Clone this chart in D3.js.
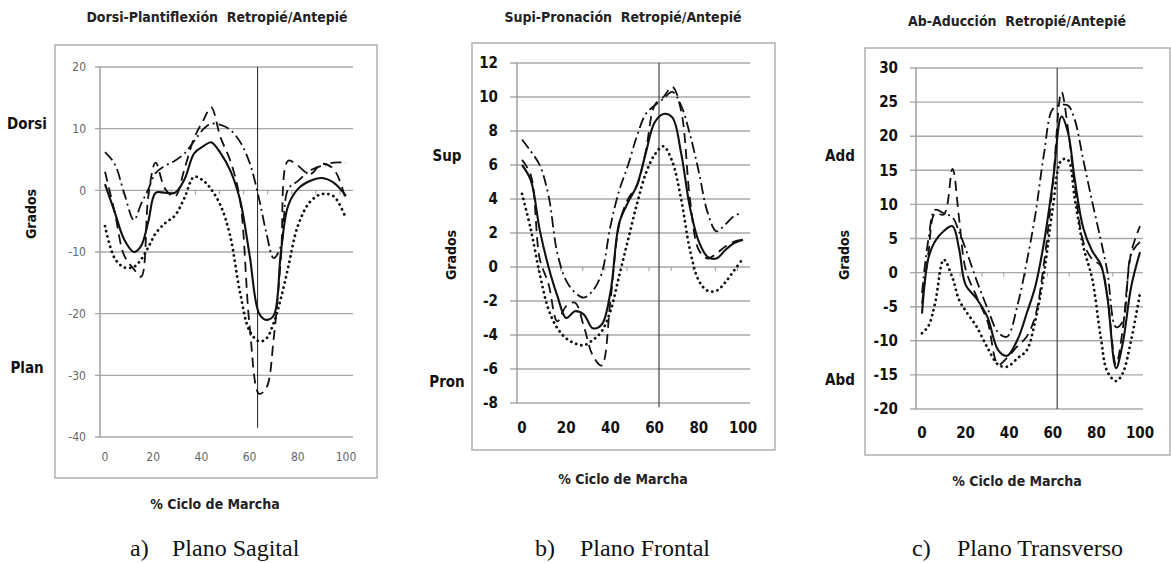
<!DOCTYPE html>
<html>
<head>
<meta charset="utf-8">
<script src="https://cdn.jsdelivr.net/npm/d3@7"></script>
<style>
  body { margin: 0; background: #fff; }
  svg { display: block; }
  .narrow { font-family: "Liberation Sans Narrow", "DejaVu Sans Condensed", "Roboto Condensed", sans-serif; font-weight: bold; white-space: pre; }
  .serif { font-family: "Liberation Serif", "DejaVu Serif", serif; }
</style>
</head>
<body>
<svg id="chart" width="1171" height="563"></svg>
<script>
// ---- data ----
// a) Plano Sagital
var cicloA = [0,4,8,12,15,18,21,25,29,33,37,41,44,48,52,56,60,64,67,70,73,76,80,85,90,95,100];
var mediaA   = [1,-3.5,-8,-10,-9,-5,-0.4,-0.4,-0.4,1.8,6,7.2,7.8,6,3.2,-1.5,-10.5,-20,-21,-20.3,-10,-2.5,0.2,1.5,2,1.2,-0.9];
var punteoA  = [-5.8,-11,-12.5,-12.4,-11.2,-9.2,-7,-5.3,-4.1,-1.2,2.2,1.5,0.2,-2.5,-7.5,-16.5,-22.8,-24.5,-24,-21.5,-17.5,-12.5,-5.8,-1.9,-0.6,-1,-4.6];
var rayaPtoA = [6.2,4.3,-0.5,-4.8,-2.2,0.2,2.8,4,4.8,6,8,10,10.8,10.6,9.8,7.9,4.5,-1.5,-7,-11,-9,0.2,1.5,3.2,4,4.5,4.5];
var rayaA    = [3,-3.5,-10.6,-12.8,-14,-0.9,4.5,0.2,-1,3.5,8.5,11.5,13.5,8.5,4.8,-1.5,-22,-33,-32,-24,-11,4.8,4,2.6,4.3,3.4,-1.7];
var ticksA = [20,10,0,-10,-20,-30,-40];

// b) Plano Frontal
var cicloB = [0,4,8,12,16,20,24,28,32,36,40,44,48,52,56,60,64,68,72,76,80,84,88,92,96,100];
var mediaB   = [6,5.1,2.2,0,-1.7,-3,-2.6,-2.8,-3.6,-3.4,-1.5,2.6,3.8,4.8,6.7,8.5,9,8.8,6.7,3.5,1.5,0.6,0.5,1,1.4,1.6];
var punteoB  = [4.3,2.2,-0.4,-2.5,-3.6,-4.2,-4.5,-4.6,-4.3,-3.8,-2.6,-0.5,1.6,3.7,5.5,6.6,7.1,6.2,4,1,-0.8,-1.4,-1.4,-0.9,-0.2,0.5];
var rayaPtoB = [7.5,6.8,6,4.2,0.8,-0.8,-1.5,-1.8,-1.4,-0.4,2.4,4.5,6,7.7,9,9.5,9.9,10.3,9.5,7.8,5.6,3.2,2.1,2.5,3,3.2];
var rayaB    = [6.3,5.4,0.5,-1,-3.2,-2.3,-2.1,-3.5,-5.2,-5.8,-2,2.5,4,4.8,6.8,9.5,10,10.6,9.2,4,1,0.5,0.8,1.2,1.5,1.6];
var ticksB = [12,10,8,6,4,2,0,-2,-4,-6,-8];

// c) Plano Transverso
var cicloC = [0,3,6,10,14,17,20,25,30,35,39,44,48,52,56,60,64,67,70,74,78,82,85,89,92,96,100];
var mediaC   = [-6,2.2,4.6,6.1,6.8,3.5,-1.8,-3.8,-6.5,-11.4,-12.2,-9.7,-6,-2,4.5,13.2,22.9,20.5,13.8,6.5,3.2,1.2,-3.5,-14,-10.5,-2,3];
var punteoC  = [-8.9,-7.8,-4.5,1.9,-0.8,-4,-5.6,-7.9,-11,-13.5,-13.8,-12.5,-11.4,-7,0,9.5,16.5,16.5,11,3.8,-0.8,-9.5,-14.5,-15.9,-14.8,-9.8,-3];
var rayaPtoC = [-3,5,9.2,8.7,8.1,6,3.5,-1.1,-5.2,-8.8,-9.4,-4.5,1.5,8.5,17.5,24,24.6,24.5,22.5,16.5,10.5,4.8,0.2,-8,-7.2,2.8,4.5];
var rayaC    = [-4.5,3,8.7,8.5,15.2,8,0.5,-3.5,-7.1,-13.5,-12.5,-10.7,-9.4,-6.3,1.5,13,26.5,21,13,4.5,2,1,-3.5,-13.5,-8.5,3,6.8];
var ticksC = [30,25,20,15,10,5,0,-5,-10,-15,-20];

var ticksX = [0,20,40,60,80,100];
var despegue = [63.3, 62, 62];   // vertical line (% ciclo)
var titulos = ["Dorsi-Plantiflexión  Retropié/Antepié", "Supi-Pronación  Retropié/Antepié", "Ab-Aducción  Retropié/Antepié"];
var pies = [["a)", "Plano Sagital"], ["b)", "Plano Frontal"], ["c)", "Plano Transverso"]];
var etiquetasY = [["Dorsi", "Plan"], ["Sup", "Pron"], ["Add", "Abd"]];

// ---- layout ----
var paneles = [
  { x: cicloA, s: [mediaA, punteoA, rayaPtoA, rayaA], ticks: ticksA, dom: [-40, 20],
    box: [55, 45, 377, 478], xr: [105, 346], yr: [437, 67], grid: [95, 353], axisX: 100,
    tick: { size: 12, weight: "normal", color: "#666" }, xLabY: 457, yLabX: 86,
    side: 27, title: [217, 22], xtitle: [215, 509], lab: [124, 368], grados: 214,
    cap: [130, 172], vEnd: -38.5 },
  { x: cicloB, s: [mediaB, punteoB, rayaPtoB, rayaB], ticks: ticksB, dom: [-8, 12],
    box: [472, 43, 775, 450], xr: [522, 743], yr: [403, 63], grid: [510, 750], axisX: 517,
    tick: { size: 15, weight: "bold", color: "#111" }, xLabY: 428, yLabX: 498,
    side: 447, title: [623, 22], xtitle: [623, 484], lab: [156, 382], grados: 255,
    cap: [535, 580], vEnd: -8.25 },
  { x: cicloC, s: [mediaC, punteoC, rayaPtoC, rayaC], ticks: ticksC, dom: [-20, 30],
    box: [865, 48, 1170, 455], xr: [922, 1140], yr: [409, 68], grid: [910, 1143], axisX: 916,
    tick: { size: 15, weight: "bold", color: "#111" }, xLabY: 433, yLabX: 898,
    side: 840, title: [1017, 26], xtitle: [1017, 486], lab: [156, 380], grados: 255,
    cap: [912, 957], vEnd: -20 }
];

var estilos = [
  { w: 2.1, dash: null, cap: "butt" },
  { w: 2.8, dash: "0.1,5.2", cap: "round" },
  { w: 1.8, dash: "11,4,2,4", cap: "butt" },
  { w: 1.8, dash: "10,6", cap: "butt" }
];

var svg = d3.select("#chart");

paneles.forEach(function(p, i) {
  var g = svg.append("g");
  var x = d3.scaleLinear().domain([0, 100]).range(p.xr);
  var y = d3.scaleLinear().domain(p.dom).range(p.yr);

  // frame
  g.append("rect")
    .attr("x", p.box[0]).attr("y", p.box[1])
    .attr("width", p.box[2] - p.box[0]).attr("height", p.box[3] - p.box[1])
    .attr("fill", "#fff").attr("stroke", "#b4b4b4").attr("stroke-width", 1.6);

  // gridlines
  g.selectAll(".grid").data(p.ticks).enter().append("line")
    .attr("x1", p.grid[0]).attr("x2", p.grid[1])
    .attr("y1", function(d) { return y(d); }).attr("y2", function(d) { return y(d); })
    .attr("stroke", "#a8a8a8").attr("stroke-width", 1.4);

  // value axis line
  g.append("line")
    .attr("x1", p.axisX).attr("x2", p.axisX)
    .attr("y1", y(p.dom[1])).attr("y2", y(p.dom[0]))
    .attr("stroke", "#999").attr("stroke-width", 1.4);

  // small ticks on zero line
  g.selectAll(".mt").data(d3.range(7.5, 100, 10)).enter().append("line")
    .attr("x1", function(d) { return x(d); }).attr("x2", function(d) { return x(d); })
    .attr("y1", y(0)).attr("y2", y(0) + 4)
    .attr("stroke", "#999").attr("stroke-width", 1);

  // y tick labels
  g.selectAll(".yt").data(p.ticks).enter().append("text")
    .attr("class", "narrow")
    .attr("x", p.yLabX).attr("y", function(d) { return y(d); })
    .attr("dy", "0.35em").attr("text-anchor", "end")
    .style("font-size", p.tick.size + "px").style("font-weight", p.tick.weight)
    .attr("fill", p.tick.color)
    .text(function(d) { return d; });

  // x tick labels
  g.selectAll(".xt").data(ticksX).enter().append("text")
    .attr("class", "narrow")
    .attr("x", function(d) { return x(d); }).attr("y", p.xLabY)
    .attr("dy", "0.35em").attr("text-anchor", "middle")
    .style("font-size", p.tick.size + "px").style("font-weight", p.tick.weight)
    .attr("fill", p.tick.color)
    .text(function(d) { return d; });

  // vertical toe-off line
  g.append("line")
    .attr("x1", x(despegue[i])).attr("x2", x(despegue[i]))
    .attr("y1", y(p.dom[1])).attr("y2", y(p.vEnd))
    .attr("stroke", "#333").attr("stroke-width", 1.1);

  // series
  var line = d3.line()
    .x(function(d, k) { return x(p.x[k]); })
    .y(function(d) { return y(d); })
    .curve(d3.curveCatmullRom.alpha(0.5));
  p.s.forEach(function(serie, k) {
    var st = estilos[k];
    g.append("path")
      .attr("d", line(serie))
      .attr("fill", "none")
      .attr("stroke", "#111")
      .attr("stroke-width", st.w)
      .attr("stroke-dasharray", st.dash)
      .attr("stroke-linecap", st.cap)
      .attr("stroke-linejoin", "round");
  });

  // titles and side labels
  g.append("text").attr("class", "narrow")
    .attr("x", p.title[0]).attr("y", p.title[1]).attr("text-anchor", "middle")
    .style("font-size", "14px").attr("fill", "#222").text(titulos[i]);
  g.append("text").attr("class", "narrow")
    .attr("x", p.xtitle[0]).attr("y", p.xtitle[1]).attr("text-anchor", "middle")
    .style("font-size", "14px").attr("fill", "#222").text("% Ciclo de Marcha");
  g.append("text").attr("class", "narrow")
    .attr("x", p.side).attr("y", p.lab[0]).attr("text-anchor", "middle").attr("dy", "0.35em")
    .style("font-size", "15px").attr("fill", "#111").text(etiquetasY[i][0]);
  g.append("text").attr("class", "narrow")
    .attr("x", p.side).attr("y", p.lab[1]).attr("text-anchor", "middle").attr("dy", "0.35em")
    .style("font-size", "15px").attr("fill", "#111").text(etiquetasY[i][1]);
  g.append("text").attr("class", "narrow")
    .attr("transform", "translate(" + (p.side + 4) + "," + p.grados + ") rotate(-90)")
    .attr("text-anchor", "middle").attr("dy", "0.35em")
    .style("font-size", "14px").attr("fill", "#111").text("Grados");

  // caption
  g.append("text").attr("class", "serif")
    .attr("x", p.cap[0]).attr("y", 556)
    .style("font-size", "24px").attr("fill", "#111").text(pies[i][0]);
  g.append("text").attr("class", "serif")
    .attr("x", p.cap[1]).attr("y", 556)
    .style("font-size", "24px").attr("fill", "#111").text(pies[i][1]);
});
</script>
</body>
</html>
